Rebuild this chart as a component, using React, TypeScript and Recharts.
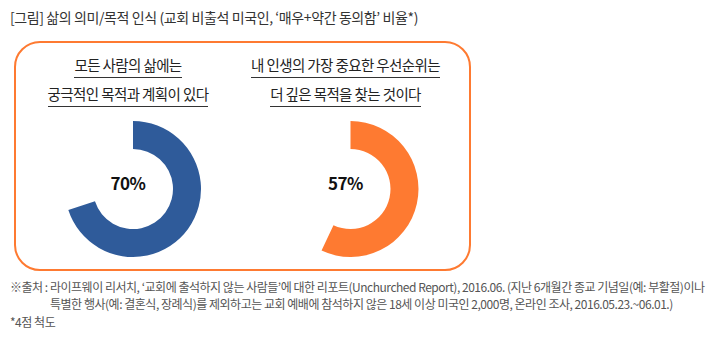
import React from 'react';
import { PieChart, Pie, Cell } from 'recharts';

const title = "[그림] 삶의 의미/목적 인식 (교회 비출석 미국인, ‘매우+약간 동의함’ 비율*)";
const questions = [
  ['모든 사람의 삶에는', '궁극적인 목적과 계획이 있다'],
  ['내 인생의 가장 중요한 우선순위는', '더 깊은 목적을 찾는 것이다'],
];
const agreeValues = [70, 57];
const colors = ['#2f5b9a', '#fe7a31'];
const footnotes = [
  '※출처 : 라이프웨이 리서치, ‘교회에 출석하지 않는 사람들’에 대한 리포트(Unchurched Report), 2016.06. (지난 6개월간 종교 기념일(예: 부활절)이나',
  '특별한 행사(예: 결혼식, 장례식)를 제외하고는 교회 예배에 참석하지 않은 18세 이상 미국인 2,000명, 온라인 조사, 2016.05.23.~06.01.)',
  '*4점 척도',
];

const W = 706;
const H = 341;
const centersX = [128, 345.5];
const centerY = 184;
const FONT = "'Noto Sans CJK KR', 'Noto Sans', sans-serif";

export default function App() {
  return (
    <div style={{ position: 'absolute', left: 0, top: 0, width: W, height: H, background: '#fff', fontFamily: FONT }}>
      <div style={{ position: 'absolute', left: 10, top: 8, fontSize: 14, color: '#333', letterSpacing: -0.4, whiteSpace: 'nowrap', lineHeight: '18px' }}>
        {title}
      </div>
      <div style={{ position: 'absolute', left: 14, top: 41, width: 457, height: 230, border: '2px solid #fe7a31', borderRadius: 26, boxSizing: 'border-box' }} />
      <div style={{ position: 'absolute', left: 0, top: 0 }}>
        <PieChart width={W} height={H}>
          {agreeValues.map((v, i) => (
            <Pie
              key={i}
              data={[{ name: '동의', value: v }, { name: '기타', value: 100 - v }]}
              dataKey="value"
              cx={centersX[i]}
              cy={centerY}
              innerRadius={40}
              outerRadius={68}
              startAngle={90}
              endAngle={-270}
              stroke="none"
              isAnimationActive={false}
            >
              <Cell fill={colors[i]} />
              <Cell fill="none" />
            </Pie>
          ))}
        </PieChart>
      </div>
      {questions.map((q, i) => (
        <div key={i} style={{ position: 'absolute', left: centersX[i] - 110, top: 52, width: 220, textAlign: 'center' }}>
          {q.map((line, j) => (
            <div key={j} style={{ height: 29 }}>
              <span style={{ display: 'inline-block', fontSize: 14.5, color: '#222', letterSpacing: -0.6, lineHeight: '19px', borderBottom: '1.5px solid #333', paddingBottom: 3 }}>
                {line}
              </span>
            </div>
          ))}
        </div>
      ))}
      {agreeValues.map((v, i) => (
        <div key={i} style={{ position: 'absolute', left: centersX[i] - 40, top: centerY - 12, width: 80, textAlign: 'center', fontSize: 17, fontWeight: 700, color: '#111', lineHeight: '22px', letterSpacing: -0.5 }}>
          {v}%
        </div>
      ))}
      <div style={{ position: 'absolute', left: 10, top: 278, fontSize: 12, color: '#555', letterSpacing: -0.48, lineHeight: '17px', whiteSpace: 'nowrap' }}>
        <div>{footnotes[0]}</div>
        <div style={{ paddingLeft: 40 }}>{footnotes[1]}</div>
        <div style={{ marginTop: 1 }}>{footnotes[2]}</div>
      </div>
    </div>
  );
}
